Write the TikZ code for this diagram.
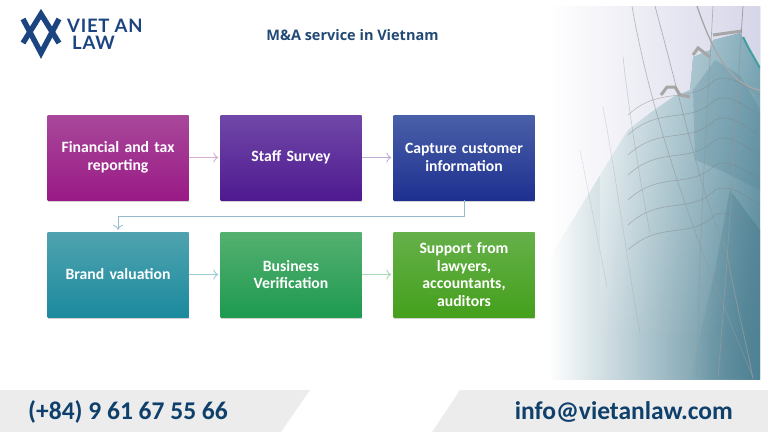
\documentclass[tikz,border=0pt]{standalone}
\usepackage{fontspec}
\setmainfont{Carlito}
\newfontfamily\titlefont{Open Sans}
\newfontfamily\logofont[LetterSpace=4]{Lato}
\usetikzlibrary{positioning, shadows, fadings, arrows.meta}
\definecolor{navy}{HTML}{1B4480}
\definecolor{footgray}{HTML}{ECECEC}
\definecolor{foottext}{HTML}{0F3F6B}
\definecolor{titleblue}{HTML}{234A75}
\definecolor{streak}{HTML}{8E9A9E}
\definecolor{ridge}{HTML}{7FA9B8}
\definecolor{deepridge}{HTML}{4F8294}
\definecolor{financetop}{HTML}{A8489A}
\definecolor{financebot}{HTML}{9A1A86}
\definecolor{stafftop}{HTML}{7048A8}
\definecolor{staffbot}{HTML}{4F1A90}
\definecolor{capturetop}{HTML}{4A60A8}
\definecolor{capturebot}{HTML}{1E3090}
\definecolor{brandtop}{HTML}{4FA3AF}
\definecolor{brandbot}{HTML}{1C8A9E}
\definecolor{verifytop}{HTML}{55B070}
\definecolor{verifybot}{HTML}{1E9A50}
\definecolor{supporttop}{HTML}{66B04A}
\definecolor{supportbot}{HTML}{44A01C}
\tikzset{
  stepbox/.style={draw=none, minimum width=141pt, minimum height=85pt, text width=130pt,
    align=center, text=white, font=\fontsize{15.7}{17.5}\selectfont\bfseries,
    drop shadow={shadow xshift=0.6pt, shadow yshift=-1.5pt, opacity=0.35}},
  flow/.style={-{To[length=5pt,width=10pt]}, line width=0.9pt, shorten >=2pt},
  foot/.style={text=foottext, font=\fontsize{25.5}{30}\selectfont\bfseries},
  logotext/.style={text=navy, font=\logofont\bfseries\fontsize{18.5}{20}\selectfont, anchor=base west, inner sep=0pt},
}
\begin{document}
\begin{tikzpicture}[x=1pt,y=-1pt]
\useasboundingbox (0,0) rectangle (768,432);
\fill[white] (0,0) rectangle (768,432);
% Image de droite
\begin{scope}
\clip (548,6) rectangle (760,379);
\shade[left color=white, middle color=gray!35, right color=deepridge] (548,6) rectangle (760,379);
% Ciel
\shade[left color=white, right color=blue!30!gray!25]
  (548,6) -- (760,6) -- (760,67) -- (748,47) -- (740,33) -- (713,40) -- (710,50) -- (693,57) -- (690,90)
  -- (673,97) -- (650,113) -- (628,130) -- (600,175) -- (548,260) -- cycle;
% Rides bleues
\shade[left color=white!90!ridge, right color=ridge, path fading=south]
  (628,130) -- (650,113) -- (673,97) -- (690,90) -- (693,57) -- (710,50) -- (713,40)
  -- (740,33) -- (748,47) -- (760,67) -- (760,340) -- (600,340) -- (600,175) -- cycle;
\fill[deepridge, opacity=0.25]
  (693,90) -- (715,60) -- (740,75) -- (760,110) -- (760,190) -- (720,170) -- (695,160) -- cycle;
\fill[deepridge, opacity=0.7, path fading=west]
  (690,379) -- (715,270) -- (730,190) -- (760,230) -- (760,379) -- cycle;
\foreach \rowy in {90,110,130,150,175,200,225}
  \draw[gray, opacity=0.55, line width=0.5pt]
    (628,\rowy+25) .. controls (660,\rowy-5) and (690,\rowy+15) .. (715,\rowy-10)
    .. controls (730,\rowy-18) and (750,\rowy) .. (760,\rowy+5);
% Filets sombres
\draw[white!30!gray, line width=3pt] (661,95) -- (667,87) -- (675,87) -- (680,95) -- (690,97);
\draw[white!30!gray, line width=3pt] (693,55) -- (698,48) -- (710,57);
\draw[white!30!gray, line width=3pt] (713,35) -- (742,31);
\draw[white!25!teal, line width=2pt] (743,37) -- (748,47) -- (760,68);
\draw[white!30!gray, line width=1.3pt] (697,6) .. controls (712,50) and (730,85) .. (760,90);
% Trainees
\draw[streak, opacity=0.6, line width=0.7pt] (632,6) .. controls (650,110) and (690,230) .. (753,377);
\draw[streak, opacity=0.7, line width=0.7pt] (655,6) .. controls (683,110) and (703,200) .. (727,253);
\draw[streak, opacity=0.85, line width=0.8pt] (743,6) .. controls (737,100) and (730,233) .. (718,377);
\draw[streak, opacity=0.65, line width=0.7pt] (713,6) .. controls (710,67) and (700,200) .. (697,377);
\draw[streak, opacity=0.4, line width=0.6pt] (623,57) .. controls (630,120) and (640,180) .. (650,233);
\draw[streak, opacity=0.3, line width=0.6pt] (603,107) .. controls (615,170) and (630,280) .. (640,333);
\draw[streak, opacity=0.25, line width=0.6pt] (580,150) .. controls (588,190) and (600,250) .. (607,287);
\draw[streak, opacity=0.85, line width=0.8pt] (727,253) .. controls (735,300) and (748,350) .. (753,379);
\end{scope}
% Logo
\begin{scope}[navy, line width=5.4pt, miter limit=10]
\draw (23,19) -- (41,53) -- (59,19);
\draw (23,43) -- (41,14) -- (59,43);
\end{scope}
\node[logotext] (vietan) at (67,32) {VIET AN};
\node[logotext] (lawtext) at (72,49) {LAW};
% Titre
\node[text=titleblue, font=\titlefont\bfseries\fontsize{14.5}{16}\selectfont] (title) at (352.5,35) {M\&A service in Vietnam};
% Etapes
\node[stepbox, top color=financetop, bottom color=financebot] (finance) at (118,157.5) {Financial and tax\\reporting};
\node[stepbox, top color=stafftop, bottom color=staffbot] (staff) at (291,157.5) {Staff Survey};
\node[stepbox, top color=capturetop, bottom color=capturebot] (capture) at (464,157.5) {Capture customer\\information};
\node[stepbox, top color=brandtop, bottom color=brandbot] (brand) at (118,274.5) {Brand valuation};
\node[stepbox, top color=verifytop, bottom color=verifybot] (verify) at (291,274.5) {Business\\Verification};
\node[stepbox, top color=supporttop, bottom color=supportbot] (support) at (464,274.5) {Support from\\lawyers,\\accountants,\\auditors};
\draw[flow, draw=financetop!45] (finance) -- (staff);
\draw[flow, draw=stafftop!45] (staff) -- (capture);
\draw[flow, draw=capturetop!30!brandtop!60, line width=0.8pt] (capture.south) -- ++(0,16) -| (brand.north);
\draw[flow, draw=brandtop!55] (brand) -- (verify);
\draw[flow, draw=verifytop!50] (verify) -- (support);
% Bandeau du bas
\fill[footgray] (0,390) -- (310,390) -- (281,432) -- (0,432) -- cycle;
\fill[footgray] (460,390) -- (768,390) -- (768,432) -- (432,432) -- cycle;
\node[foot, anchor=west, inner sep=0pt] (phone) at (28,412) {(+84) 9 61 67 55 66};
\node[foot, anchor=east, inner sep=0pt] (mail) at (733,412) {info@vietanlaw.com};
\end{tikzpicture}
\end{document}
